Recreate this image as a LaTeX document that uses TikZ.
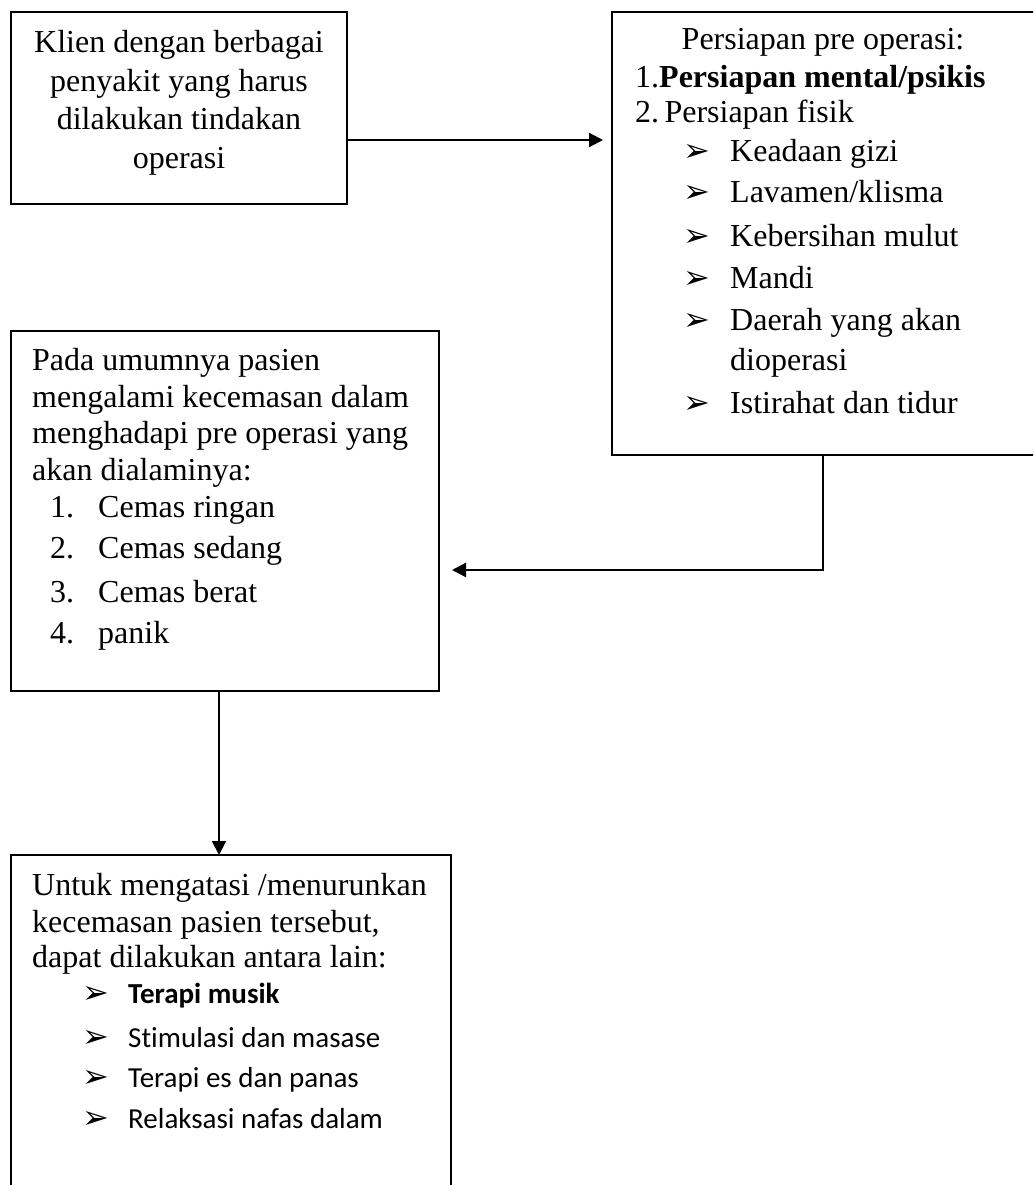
\documentclass[tikz,border=0pt]{standalone}
\usepackage{fontspec}
\setmainfont{Liberation Serif}
\newfontfamily\calfont[Ligatures={NoCommon}]{Carlito}
\newfontfamily\dvfont{DejaVu Sans}
\usetikzlibrary{arrows.meta}
\newcommand{\blt}{{\dvfont\fontsize{32}{32}\selectfont ➢}}
\begin{document}
\begin{tikzpicture}[x=1pt,y=-1pt,
  box/.style={draw,line width=2pt,rectangle,inner sep=0pt,outer sep=0pt,anchor=north west},
  arr/.style={line width=2.2pt,-{Triangle[length=14pt,width=14pt]}},
  txt/.style={inner sep=0pt,anchor=base west,font=\fontsize{32}{38}\selectfont},
  ctxt/.style={inner sep=0pt,anchor=base,font=\fontsize{32}{38}\selectfont},
  ctext/.style={inner sep=0pt,anchor=base west,font=\calfont\fontsize{29}{35}\selectfont},
  bl/.style={inner sep=0pt,anchor=base west}]
\useasboundingbox (0,0) rectangle (1033,1185);
\clip (0,0) rectangle (1033,1185);
% boxes
\node[box,minimum width=336pt,minimum height=192pt] (b1) at (11,12) {};
\node[box,minimum width=430pt,minimum height=443pt] (b2) at (612,12) {};
\node[box,minimum width=428pt,minimum height=360pt] (b3) at (11,331) {};
\node[box,minimum width=440pt,minimum height=345pt] (b4) at (11,855) {};
% box 1 text
\node[ctxt] (t11) at (179,53) {Klien dengan berbagai};
\node[ctxt] (t12) at (179,91.5) {penyakit yang harus};
\node[ctxt] (t13) at (179,130) {dilakukan tindakan};
\node[ctxt] (t14) at (179,168) {operasi};
% box 2 text
\node[ctxt] (t21) at (823,50) {Persiapan pre operasi:};
\node[txt] (t22) at (635,88) {1.\textbf{Persiapan mental/psikis}};
\node[txt] (t23) at (635,123) {2.\,Persiapan fisik};
\foreach \yy/\tx [count=\i] in {162/Keadaan gizi,203/Lavamen\slash klisma,246/Kebersihan mulut,288/Mandi,330/Daerah yang akan,413/Istirahat dan tidur}{
  \node[bl] (u\i) at (683,\yy) {\blt};
  \node[txt] (v\i) at (730,\yy) {\tx};
}
\node[txt] (v7) at (730,370) {dioperasi};
% box 3 text
\node[txt] (t31) at (32,370) {Pada umumnya pasien};
\node[txt] (t32) at (32,407) {mengalami kecemasan dalam};
\node[txt] (t33) at (32,443) {menghadapi pre operasi yang};
\node[txt] (t34) at (32,480) {akan dialaminya:};
\foreach \yy/\tx [count=\i] in {517/Cemas ringan,558/Cemas sedang,602/Cemas berat,643/panik}{
  \node[txt] (n\i) at (50,\yy) {\i.};
  \node[txt] (m\i) at (98,\yy) {\tx};
}
% box 4 text
\node[txt] (t41) at (32,895) {Untuk mengatasi /menurunkan};
\node[txt] (t42) at (32,932) {kecemasan pasien tersebut,};
\node[txt] (t43) at (32,967) {dapat dilakukan antara lain:};
\foreach \yy/\tx [count=\i] in {1003/\textbf{Terapi musik},1047/Stimulasi dan masase,1087/Terapi es dan panas,1128/Relaksasi nafas dalam}{
  \node[bl] (w\i) at (82,\yy) {\blt};
  \node[ctext] (x\i) at (128,\yy) {\tx};
}
% connectors
\coordinate (p1) at ([yshift=-32pt]b1.east);
\draw[arr,shorten >=9pt] (p1) -- (p1 -| b2.west);
\coordinate (p2) at ([xshift=-4pt]b2.south);
\coordinate (p3) at ([yshift=-59pt]b3.east);
\draw[arr,shorten >=13pt] (p2) |- (p3);
\coordinate (p4) at ([xshift=-6pt]b3.south);
\draw[arr] (p4) -- (p4 |- b4.north);
\end{tikzpicture}
\end{document}
